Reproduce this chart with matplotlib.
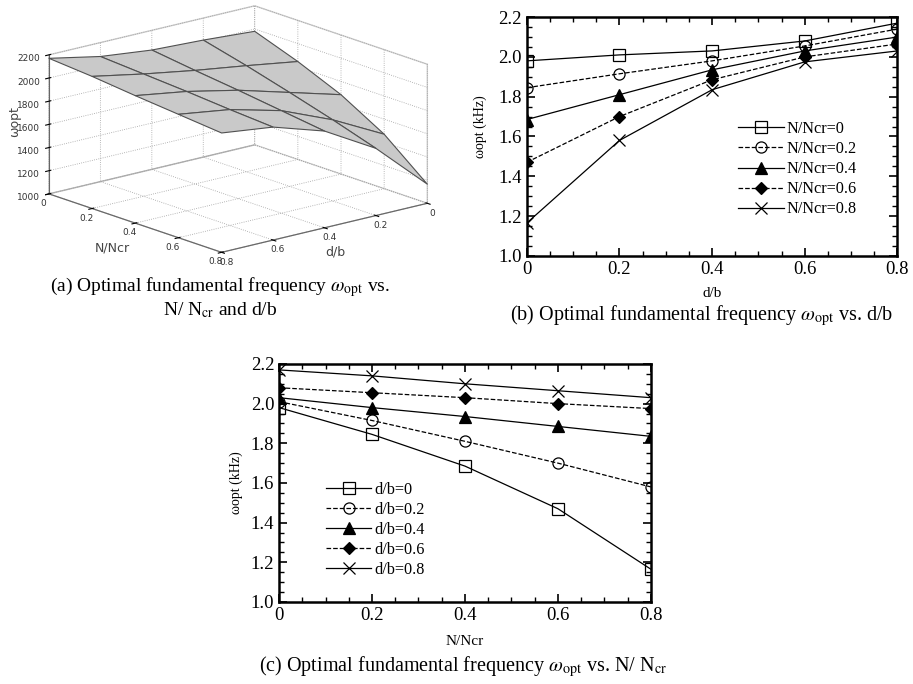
import numpy as np
import matplotlib
matplotlib.use("Agg")
import matplotlib.pyplot as plt
from matplotlib.ticker import MultipleLocator

plt.rcParams['font.family'] = ['Liberation Serif', 'DejaVu Serif']
plt.rcParams['mathtext.fontset'] = 'stix'
plt.rcParams['grid.linestyle'] = ':'
plt.rcParams['grid.color'] = '#a0a0a0'
plt.rcParams['grid.linewidth'] = 0.6

# Parameter values
nncr = [0, 0.2, 0.4, 0.6, 0.8]
db = [0, 0.2, 0.4, 0.6, 0.8]

# Optimal fundamental frequency (kHz), one list per N/Ncr, across d/b
w_n00 = [1.98, 2.01, 2.03, 2.08, 2.17]
w_n02 = [1.845, 1.915, 1.98, 2.055, 2.14]
w_n04 = [1.685, 1.81, 1.935, 2.03, 2.10]
w_n06 = [1.47, 1.70, 1.885, 2.00, 2.065]
w_n08 = [1.165, 1.58, 1.835, 1.975, 2.03]

W = np.array([w_n00, w_n02, w_n04, w_n06, w_n08])

styles = [('s', '-', 'none'), ('o', '--', 'none'), ('^', '-', 'black'),
          ('D', '--', 'black'), ('x', '-', 'none')]
msizes = [8, 8, 8, 6, 9]

fig = plt.figure(figsize=(9.13, 6.84), dpi=100)

# ---- (a) 3D surface ----
ax3 = fig.add_axes([-0.035, 0.515, 0.58, 0.577], projection='3d')
ax3.patch.set_alpha(0)
ax3.set_proj_type('ortho')
X, Y = np.meshgrid(db, nncr)
ax3.plot_surface(X, Y, W * 1000, color='#c9c9c9', edgecolor='#505050',
                 linewidth=0.8, shade=False)
ax3.set_xlim(0, 0.8)
ax3.set_ylim(0, 0.8)
ax3.set_zlim(1000, 2200)
ax3.set_xticks(db)
ax3.set_yticks(nncr)
ax3.set_zticks(np.arange(1000, 2201, 200))
ax3.set_xticklabels(['0', '0.2', '0.4', '0.6', '0.8'])
ax3.set_yticklabels(['0', '0.2', '0.4', '0.6', '0.8'])
for lab in ax3.get_xticklabels() + ax3.get_yticklabels() + ax3.get_zticklabels():
    lab.set_family('DejaVu Sans')
    lab.set_fontsize(6.5)
    lab.set_color('#333333')
ax3.xaxis.set_tick_params(pad=-4)
ax3.yaxis.set_tick_params(pad=-4)
ax3.zaxis.set_tick_params(pad=0)
for axis in (ax3.xaxis, ax3.yaxis, ax3.zaxis):
    axis.pane.set_facecolor('white')
    axis.pane.set_edgecolor('#a0a0a0')
    axis.line.set_color('#666666')
ax3.view_init(elev=16.5, azim=50)
ax3.set_box_aspect((1, 1, 0.54))

# 3D axis labels kept upright, as in the original
fig.text(0.123, 0.637, 'N/Ncr', family='DejaVu Sans', fontsize=9, color='#444444',
         ha='center', va='center')
fig.text(0.367, 0.632, 'd/b', family='DejaVu Sans', fontsize=9, color='#444444',
         ha='center', va='center')
fig.text(0.016, 0.822, 'ωopt', family='DejaVu Sans', fontsize=9, color='#444444',
         ha='center', va='center', rotation=90)

fig.text(0.241, 0.580, r'(a) Optimal fundamental frequency $\omega_{\rm opt}$ vs.',
         ha='center', va='center', fontsize=14)
fig.text(0.241, 0.547, r'N/ N$_{\rm cr}$ and d/b', ha='center', va='center', fontsize=14)


def style_axes(ax):
    ax.set_xlim(0, 0.8)
    ax.set_ylim(1.0, 2.2)
    ax.xaxis.set_major_locator(MultipleLocator(0.2))
    ax.xaxis.set_minor_locator(MultipleLocator(0.05))
    ax.yaxis.set_major_locator(MultipleLocator(0.2))
    ax.yaxis.set_minor_locator(MultipleLocator(0.05))
    ax.xaxis.set_major_formatter(lambda v, p: '0' if abs(v) < 1e-9 else f'{v:.1f}')
    ax.yaxis.set_major_formatter(lambda v, p: f'{v:.1f}')
    ax.tick_params(which='both', direction='in', top=True, right=True, labelsize=13.5)
    ax.tick_params(which='major', length=6, width=1.2)
    ax.tick_params(which='minor', length=3.5, width=1.0)
    for s in ax.spines.values():
        s.set_linewidth(1.8)


# ---- (b) vs d/b ----
axb = fig.add_axes([0.577, 0.626, 0.406, 0.349])
for i, n in enumerate(nncr):
    m, ls, fc = styles[i]
    axb.plot(db, W[i, :], color='black', linestyle=ls, linewidth=0.9, marker=m,
             markersize=msizes[i], markerfacecolor=fc, markeredgecolor='black',
             markeredgewidth=0.9, label=f'N/Ncr={n:g}')
style_axes(axb)
axb.set_xlabel('d/b', fontsize=11)
axb.xaxis.set_label_coords(0.5, -0.13)
axb.set_ylabel('ωopt (kHz)', fontsize=10)
axb.yaxis.set_label_coords(-0.108, 0.54)
axb.legend(loc='lower right', bbox_to_anchor=(0.93, 0.1), frameon=False,
           fontsize=11.7, handlelength=2.8, labelspacing=0.25, handletextpad=0.2)
fig.text(0.768, 0.539, r'(b) Optimal fundamental frequency $\omega_{\rm opt}$ vs. d/b',
         ha='center', va='center', fontsize=14.5)

# ---- (c) vs N/Ncr ----
axc = fig.add_axes([0.3056, 0.1199, 0.4074, 0.348])
for j, d in enumerate(db):
    m, ls, fc = styles[j]
    axc.plot(nncr, W[:, j], color='black', linestyle=ls, linewidth=0.9, marker=m,
             markersize=msizes[j], markerfacecolor=fc, markeredgecolor='black',
             markeredgewidth=0.9, label=f'd/b={d:g}')
style_axes(axc)
axc.set_xlabel('N/Ncr', fontsize=11)
axc.xaxis.set_label_coords(0.5, -0.14)
axc.set_ylabel('ωopt (kHz)', fontsize=10)
axc.yaxis.set_label_coords(-0.097, 0.5)
axc.legend(loc='lower left', bbox_to_anchor=(0.087, 0.04), frameon=False,
           fontsize=11.7, handlelength=2.8, labelspacing=0.25, handletextpad=0.2)
fig.text(0.507, 0.025,
         r'(c) Optimal fundamental frequency $\omega_{\rm opt}$ vs. N/ N$_{\rm cr}$',
         ha='center', va='center', fontsize=14.5)

fig.savefig('out.png', dpi=100)
